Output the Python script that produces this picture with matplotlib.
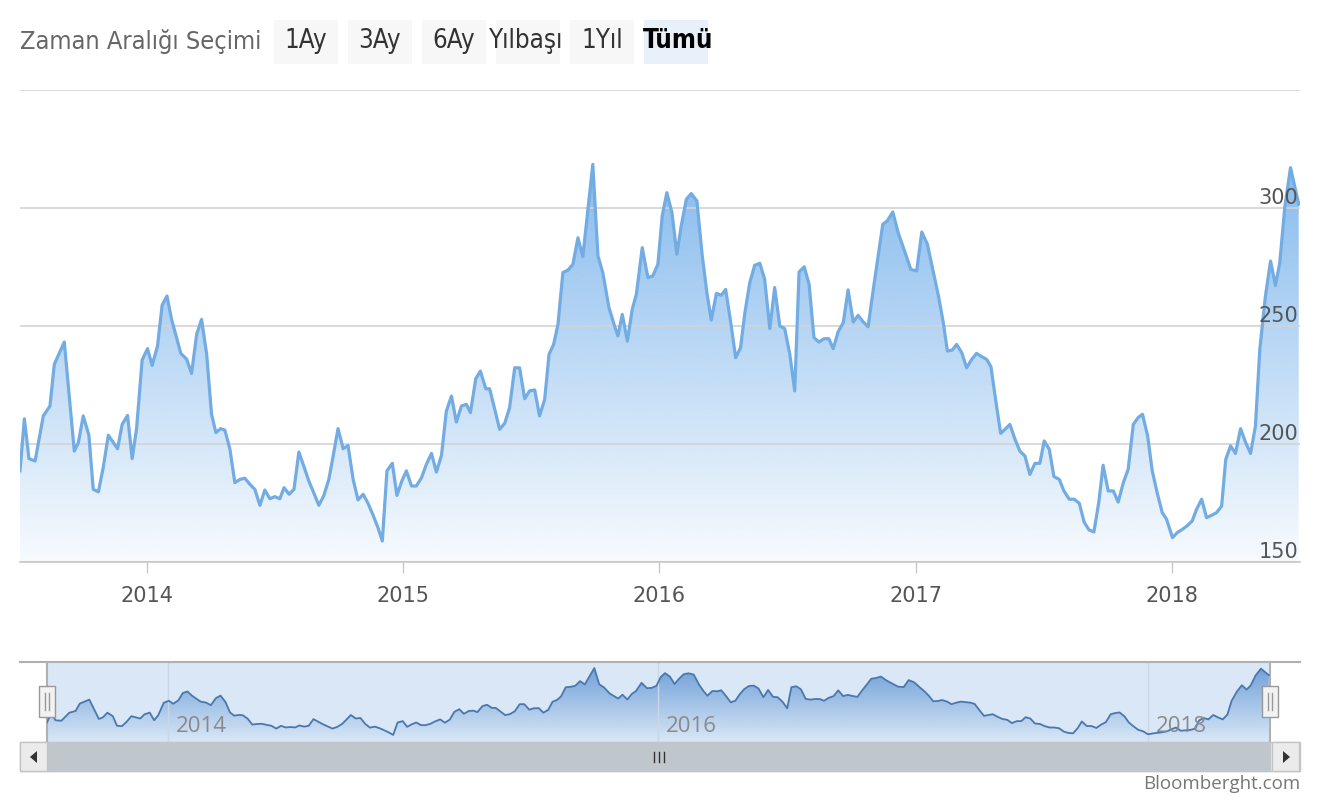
import datetime as dt
import numpy as np
import matplotlib
matplotlib.use("Agg")
import matplotlib.pyplot as plt
import matplotlib.dates as mdates
import matplotlib.transforms as mtransforms
from matplotlib.patches import Rectangle, Polygon
from matplotlib.lines import Line2D

# weekly readings, time given as decimal year
t_years = [
    2013.504, 2013.521, 2013.539, 2013.563, 2013.595, 2013.621, 2013.638, 2013.677,
    2013.716, 2013.732, 2013.751, 2013.773, 2013.790, 2013.810, 2013.829, 2013.849,
    2013.885, 2013.903, 2013.924, 2013.942, 2013.959, 2013.981, 2014.002, 2014.020,
    2014.041, 2014.059, 2014.078, 2014.096, 2014.132, 2014.155, 2014.174, 2014.194,
    2014.213, 2014.233, 2014.252, 2014.269, 2014.287, 2014.304, 2014.324, 2014.343,
    2014.363, 2014.382, 2014.402, 2014.421, 2014.441, 2014.460, 2014.480, 2014.499,
    2014.519, 2014.535, 2014.555, 2014.574, 2014.593, 2014.612, 2014.632, 2014.651,
    2014.671, 2014.690, 2014.710, 2014.727, 2014.746, 2014.766, 2014.785, 2014.805,
    2014.824, 2014.844, 2014.863, 2014.883, 2014.902, 2014.919, 2014.937, 2014.958,
    2014.976, 2014.995, 2015.013, 2015.033, 2015.052, 2015.072, 2015.091, 2015.111,
    2015.130, 2015.150, 2015.169, 2015.189, 2015.208, 2015.228, 2015.247, 2015.263,
    2015.284, 2015.302, 2015.323, 2015.338, 2015.358, 2015.377, 2015.397, 2015.416,
    2015.436, 2015.455, 2015.475, 2015.494, 2015.514, 2015.533, 2015.553, 2015.570,
    2015.588, 2015.605, 2015.624, 2015.644, 2015.663, 2015.683, 2015.702, 2015.722,
    2015.741, 2015.761, 2015.780, 2015.804, 2015.826, 2015.839, 2015.856, 2015.876,
    2015.895, 2015.911, 2015.934, 2015.956, 2015.975, 2015.995, 2016.012, 2016.030,
    2016.050, 2016.069, 2016.086, 2016.106, 2016.125, 2016.147, 2016.168, 2016.186,
    2016.203, 2016.223, 2016.242, 2016.259, 2016.279, 2016.298, 2016.317, 2016.334,
    2016.353, 2016.372, 2016.392, 2016.411, 2016.431, 2016.450, 2016.470, 2016.489,
    2016.509, 2016.528, 2016.545, 2016.565, 2016.584, 2016.603, 2016.622, 2016.642,
    2016.661, 2016.678, 2016.697, 2016.717, 2016.736, 2016.756, 2016.775, 2016.795,
    2016.814, 2016.834, 2016.853, 2016.871, 2016.888, 2016.910, 2016.931, 2016.958,
    2016.980, 2017.003, 2017.023, 2017.045, 2017.066, 2017.088, 2017.107, 2017.123,
    2017.142, 2017.159, 2017.179, 2017.198, 2017.218, 2017.237, 2017.257, 2017.276,
    2017.293, 2017.313, 2017.331, 2017.351, 2017.367, 2017.387, 2017.406, 2017.426,
    2017.445, 2017.465, 2017.484, 2017.501, 2017.521, 2017.539, 2017.560, 2017.578,
    2017.599, 2017.618, 2017.638, 2017.657, 2017.676, 2017.695, 2017.714, 2017.731,
    2017.751, 2017.771, 2017.790, 2017.810, 2017.829, 2017.849, 2017.868, 2017.885,
    2017.905, 2017.923, 2017.942, 2017.962, 2017.979, 2018.002, 2018.020, 2018.040,
    2018.059, 2018.079, 2018.096, 2018.116, 2018.135, 2018.155, 2018.174, 2018.194,
    2018.210, 2018.229, 2018.248, 2018.268, 2018.287, 2018.307, 2018.326, 2018.343,
    2018.365, 2018.385, 2018.404, 2018.421, 2018.441, 2018.463, 2018.482, 2018.495,
]

price = [
    188.6, 210.7, 193.8, 192.8, 211.9, 216.1, 233.8, 243.2,
    197.0, 200.6, 211.9, 203.7, 180.8, 179.7, 190.0, 203.7,
    198.0, 208.3, 212.1, 193.8, 206.2, 235.6, 240.4, 233.3,
    241.5, 258.8, 262.7, 252.8, 238.4, 235.9, 229.9, 246.5,
    252.8, 238.0, 212.6, 204.8, 206.5, 205.9, 197.7, 183.6,
    185.0, 185.5, 182.9, 180.8, 174.0, 180.5, 176.8, 177.7,
    176.8, 181.5, 178.7, 180.8, 196.6, 190.7, 184.3, 179.4,
    174.0, 178.0, 185.0, 194.9, 206.5, 198.0, 199.4, 185.0,
    176.3, 178.7, 174.9, 169.8, 164.5, 158.9, 188.6, 191.8,
    178.2, 184.3, 188.6, 182.2, 182.2, 185.7, 191.4, 196.0,
    188.1, 195.2, 214.0, 220.3, 209.3, 216.1, 216.8, 213.3,
    227.7, 230.9, 223.4, 223.4, 214.7, 206.2, 208.8, 215.4,
    232.3, 232.3, 219.2, 222.5, 222.9, 211.9, 218.9, 238.0,
    242.2, 250.7, 272.6, 273.7, 276.1, 287.4, 279.4, 299.4,
    318.5, 279.7, 272.6, 257.8, 250.0, 245.8, 254.9, 243.6,
    257.1, 263.4, 283.2, 270.5, 271.2, 276.1, 296.6, 306.5,
    298.0, 280.4, 292.4, 303.7, 306.1, 303.0, 279.7, 264.1,
    252.5, 263.8, 263.0, 265.5, 251.4, 236.6, 240.8, 255.6,
    268.4, 275.7, 276.6, 269.8, 248.9, 266.3, 250.0, 248.9,
    238.0, 222.5, 272.9, 275.1, 267.7, 245.1, 243.2, 244.6,
    244.6, 240.4, 247.5, 251.4, 265.3, 251.7, 254.5, 251.7,
    249.7, 265.5, 279.7, 293.1, 294.5, 298.3, 289.5, 281.1,
    274.0, 273.3, 289.8, 284.6, 274.0, 262.7, 251.4, 239.4,
    239.8, 242.2, 238.7, 232.3, 235.9, 238.4, 237.0, 235.9,
    232.8, 217.5, 204.5, 206.5, 208.3, 202.0, 197.0, 194.9,
    187.1, 191.8, 191.8, 201.3, 197.7, 186.2, 185.0, 180.1,
    176.6, 176.6, 174.9, 166.9, 163.6, 162.7, 175.1, 191.0,
    180.1, 180.1, 175.4, 183.6, 189.3, 208.3, 211.2, 212.6,
    203.4, 188.6, 179.4, 170.9, 168.1, 160.3, 162.4, 163.8,
    165.3, 167.4, 172.3, 176.6, 168.8, 169.8, 170.9, 173.7,
    193.5, 199.2, 196.0, 206.5, 200.8, 196.0, 207.6, 240.1,
    262.7, 277.5, 267.2, 276.8, 300.8, 317.1, 307.9, 301.6,
]

y_ticks = [150, 200, 250, 300]
x_years = [2014, 2015, 2016, 2017, 2018]
nav_years = [2014, 2016, 2018]
buttons = ["1Ay", "3Ay", "6Ay", "Yılbaşı", "1Yıl", "Tümü"]
range_title = "Zaman Aralığı Seçimi"
source = "Bloomberght.com"


def to_date(y):
    year = int(y)
    start = dt.datetime(year, 1, 1)
    end = dt.datetime(year + 1, 1, 1)
    return start + (end - start) * (y - year)


x = mdates.date2num([to_date(v) for v in t_years])
x_lo = mdates.date2num(to_date(2013.504))
x_hi = mdates.date2num(to_date(2018.5))
vals = np.array(price)

W, H = 1320, 800
fig = plt.figure(figsize=(W / 100, H / 100), dpi=100)
fig.patch.set_facecolor("white")


def box(l, t, r, b):
    return [l / W, 1 - b / H, (r - l) / W, (b - t) / H]


def gradient_fill(ax, xs, ys, base, color, a_top, a_bot, z=1):
    poly = ax.fill_between(xs, ys, base, color="none", lw=0)
    g = np.zeros((256, 1, 4))
    g[:, 0, :3] = matplotlib.colors.to_rgb(color)
    g[:, 0, 3] = np.linspace(a_top, a_bot, 256)
    im = ax.imshow(g, extent=[xs[0], xs[-1], base, max(ys)], aspect="auto",
                   origin="upper", zorder=z, interpolation="bilinear")
    im.set_clip_path(poly.get_paths()[0], ax.transData)


# ---- main chart
ax = fig.add_axes(box(20, 90, 1300, 562))
ax.set_facecolor("none")
gradient_fill(ax, x, vals, 150, "#7cb5ec", 0.92, 0.06)
ax.plot(x, vals, color="#72ace3", lw=2.3, zorder=3, solid_joinstyle="round")
ax.set_xlim(x_lo, x_hi)
ax.set_ylim(150, 350)
ax.set_yticks(y_ticks + [350])
ax.yaxis.grid(True, color="#d3d3d3", lw=1.2)
ax.tick_params(axis="y", length=0, labelleft=False)
for s in ["top", "left", "right"]:
    ax.spines[s].set_visible(False)
ax.spines["bottom"].set_color("#c8c8c8")
ax.spines["bottom"].set_linewidth(1.2)
ax.set_xticks(mdates.date2num([dt.datetime(y, 1, 1) for y in x_years]))
ax.set_xticklabels([str(y) for y in x_years])
ax.tick_params(axis="x", length=8, width=1, color="#c8c8c8", labelsize=15,
               labelcolor="#555555", pad=9)
ytr = mtransforms.offset_copy(ax.get_yaxis_transform(), fig=fig, x=-2, y=4, units="dots")
for v in y_ticks:
    ax.text(1.0, v, str(v), transform=ytr, ha="right", va="baseline",
            fontsize=15, color="#555555", zorder=5)

# ---- navigator
nav = fig.add_axes(box(47, 662, 1270, 742))
nav.set_facecolor("#d9e7f6")
gradient_fill(nav, x, vals, 142, "#4f8ad0", 0.75, 0.0)
nav.plot(x, vals, color="#4a78ad", lw=1.3, zorder=3)
nav.set_xlim(x_lo, x_hi)
nav.set_ylim(142, 333)
nav.set_yticks([])
nav.set_xticks(mdates.date2num([dt.datetime(y, 1, 1) for y in nav_years]))
nav.xaxis.grid(True, color="#c9d7e6", lw=1)
nav.tick_params(axis="x", length=0, labelbottom=False)
for s in ["top", "bottom"]:
    nav.spines[s].set_visible(False)
for s in ["left", "right"]:
    nav.spines[s].set_color("#b0b0b0")
    nav.spines[s].set_linewidth(1.5)
ntr = mtransforms.offset_copy(nav.get_xaxis_transform(), fig=fig, x=8, y=5, units="dots")
for y in nav_years:
    nav.text(mdates.date2num(dt.datetime(y, 1, 1)), 0, str(y), transform=ntr,
             ha="left", va="bottom", fontsize=16, color="#8a8a8a",
             family=["Open Sans", "DejaVu Sans"], zorder=5)

# ---- page decorations (range selector, scrollbar, credit)
ui = fig.add_axes([0, 0, 1, 1])
ui.set_xlim(0, W)
ui.set_ylim(H, 0)
ui.axis("off")
ui.patch.set_visible(False)

ui.text(20, 42, range_title, fontsize=18.2, color="#666666", va="center", ha="left",
        family="DejaVu Sans", fontstretch="condensed")
btn_left = [274, 348, 422, 496, 570, 644]
btn_text_x = [306, 380, 454, 526, 602, 678]
for i, lab in enumerate(buttons):
    sel = lab == "Tümü"
    ui.add_patch(Rectangle((btn_left[i], 20), 64, 44, fc="#e8f0fa" if sel else "#f7f7f7",
                           ec="none"))
    ui.text(btn_text_x[i], 41, lab, fontsize=18.5, ha="center", va="center",
            color="#000000" if sel else "#333333", fontweight="bold" if sel else "normal",
            family="DejaVu Sans", fontstretch="condensed")

ui.add_line(Line2D([20, 1300], [662, 662], color="#b0b0b0", lw=1.5))

# scrollbar
ui.add_patch(Rectangle((20, 742), 1280, 29, fc="#eeeeee", ec="#c4c4c4", lw=1))
ui.add_patch(Rectangle((47, 742), 1223, 29, fc="#bfc6cc", ec="#bfc6cc", lw=1))
for bx in (20, 1272):
    ui.add_patch(Rectangle((bx, 742), 27, 29, fc="#ebebeb", ec="#c4c4c4", lw=1))
ui.add_patch(Polygon([[37, 751], [37, 763], [30, 757]], closed=True, fc="#333333", ec="none"))
ui.add_patch(Polygon([[1283, 751], [1283, 763], [1290, 757]], closed=True, fc="#333333", ec="none"))
for gx in (654, 659, 664):
    ui.add_line(Line2D([gx, gx], [752, 762], color="#333333", lw=1))

# navigator handles
for hx in (47, 1270):
    ui.add_patch(Rectangle((hx - 8, 686), 16, 31, fc="#f2f2f2", ec="#999999", lw=1))
    for d in (-2, 2):
        ui.add_line(Line2D([hx + d, hx + d], [693, 710], color="#999999", lw=1))

ui.text(1300, 784, source, fontsize=13.5, color="#777777", ha="right", va="center",
        family=["Open Sans", "DejaVu Sans"])

fig.savefig("out.png", dpi=100, facecolor="white")
